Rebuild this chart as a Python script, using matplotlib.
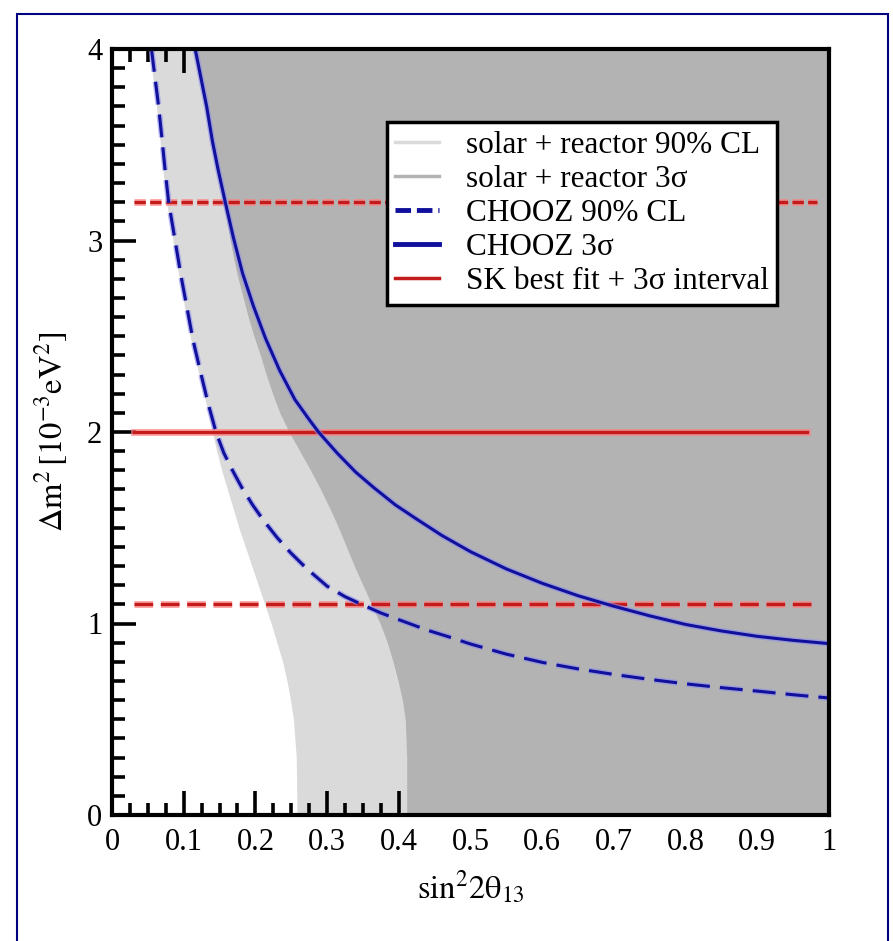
import matplotlib
matplotlib.use("Agg")
import matplotlib.pyplot as plt
import matplotlib.patheffects as pe
from matplotlib.patches import Rectangle
from matplotlib.lines import Line2D
import numpy as np

plt.rcParams['font.family'] = ['Liberation Serif', 'DejaVu Serif']
plt.rcParams['mathtext.fontset'] = 'stix'

# CHOOZ 3 sigma exclusion curve (sin^2 2theta13, dm2 in 1e-3 eV^2)
chooz3_x = [0.116, 0.124, 0.132, 0.140, 0.148, 0.158, 0.169, 0.182, 0.197, 0.214,
            0.234, 0.255, 0.274, 0.288, 0.314, 0.34, 0.365, 0.395, 0.425, 0.46,
            0.50, 0.55, 0.60, 0.65, 0.70, 0.75, 0.80, 0.85, 0.90, 0.95, 1.0]
chooz3_y = [4.0, 3.85, 3.70, 3.52, 3.37, 3.20, 3.02, 2.83, 2.66, 2.49,
            2.32, 2.17, 2.07, 2.00, 1.89, 1.79, 1.71, 1.62, 1.545, 1.46,
            1.375, 1.285, 1.21, 1.145, 1.09, 1.04, 0.995, 0.961, 0.933, 0.912, 0.895]

# CHOOZ 90% CL curve
chooz90_x = [0.055, 0.060, 0.065, 0.070, 0.074, 0.079, 0.088, 0.096, 0.104, 0.113,
             0.123, 0.134, 0.145, 0.156, 0.168, 0.181, 0.196, 0.211, 0.23, 0.249,
             0.272, 0.30, 0.325, 0.351, 0.375, 0.40, 0.44, 0.47, 0.50, 0.55,
             0.60, 0.65, 0.70, 0.75, 0.80, 0.85, 0.90, 0.95, 1.0]
chooz90_y = [4.0, 3.85, 3.70, 3.52, 3.37, 3.20, 3.00, 2.82, 2.66, 2.48,
             2.32, 2.15, 2.00, 1.89, 1.80, 1.71, 1.62, 1.54, 1.45, 1.37,
             1.285, 1.195, 1.14, 1.095, 1.055, 1.02, 0.965, 0.93, 0.893, 0.840,
             0.797, 0.763, 0.734, 0.708, 0.685, 0.665, 0.647, 0.628, 0.611]

# solar + reactor allowed region edges (x as function of dm2)
sr90_y = [0.0, 0.3, 0.5, 0.6, 0.7, 0.8, 0.9, 1.0, 1.1, 1.2, 1.3, 1.4, 1.5, 1.6,
          1.7, 1.8, 1.9, 2.0, 2.15, 2.32, 2.48, 2.66, 2.82, 3.0, 3.2, 3.37,
          3.52, 3.7, 3.85, 4.0]
sr90_x = [0.258, 0.257, 0.253, 0.249, 0.244, 0.238, 0.230, 0.222, 0.213, 0.204,
          0.195, 0.186, 0.177, 0.169, 0.161, 0.153, 0.146, 0.140, 0.131, 0.120,
          0.110, 0.101, 0.093, 0.085, 0.076, 0.071, 0.067, 0.062, 0.057, 0.052]

sr3_y = [0.0, 0.3, 0.5, 0.6, 0.7, 0.8, 0.9, 1.0, 1.1, 1.2, 1.3, 1.4, 1.5, 1.6,
         1.7, 1.8, 1.9, 2.0, 2.1, 2.2, 2.3, 2.4, 2.5, 2.6, 2.7, 2.8, 2.9, 3.0,
         3.2, 3.37, 3.52, 3.7, 3.85, 4.0]
sr3_x = [0.411, 0.411, 0.409, 0.405, 0.399, 0.392, 0.384, 0.374, 0.362, 0.350,
         0.338, 0.327, 0.316, 0.304, 0.291, 0.277, 0.262, 0.247, 0.234, 0.224,
         0.215, 0.207, 0.198, 0.190, 0.183, 0.176, 0.170, 0.165, 0.155, 0.145,
         0.137, 0.129, 0.121, 0.113]

# SK best fit and 3 sigma interval
sk_best = 2.0
sk_low = 1.1
sk_high = 3.2

light = '#dadada'
dark = '#b3b3b3'
blue = '#10109c'
red = '#c41c1c'

fig = plt.figure(figsize=(8.93, 9.41), dpi=100)
ax = fig.add_axes([112/893, 126/941, 717/893, 766/941])

ax.fill_betweenx(sr90_y, sr90_x, 1.0, color=light, lw=0, zorder=1)
ax.fill_betweenx(sr3_y, sr3_x, 1.0, color=dark, lw=0, zorder=2)

blue_fx = [pe.Stroke(linewidth=4.2, foreground='#8c8cf0', alpha=0.6), pe.Normal()]
red_fx = [pe.Stroke(linewidth=5, foreground='#ff8080', alpha=0.7), pe.Normal()]

ax.plot(chooz90_x, chooz90_y, color=blue, lw=2.2, dashes=(7.5, 3.3),
        path_effects=blue_fx, zorder=4)
ax.plot(chooz3_x, chooz3_y, color=blue, lw=2.2, path_effects=blue_fx, zorder=4)

ax.plot([0.03, 0.97], [sk_best, sk_best], color=red, lw=2.4, path_effects=red_fx, zorder=3)
ax.plot([0.03, 0.983], [sk_high, sk_high], color=red, lw=2.4, dashes=(3.4, 1.3),
        path_effects=red_fx, zorder=3)
ax.plot([0.03, 0.983], [sk_low, sk_low], color=red, lw=2.4, dashes=(5.6, 2.3),
        path_effects=red_fx, zorder=3)

ax.set_xlim(0, 1)
ax.set_ylim(0, 4)
ax.set_xticks(np.arange(0, 1.01, 0.1))
ax.set_xticklabels(['0', '0.1', '0.2', '0.3', '0.4', '0.5', '0.6', '0.7', '0.8', '0.9', '1'])
ax.set_xticks(np.arange(0, 1.001, 0.025), minor=True)
ax.set_yticks([0, 1, 2, 3, 4])
ax.set_yticks(np.arange(0, 4.001, 0.1), minor=True)
ax.tick_params(which='both', direction='in', top=True, right=True, width=2.6,
               labelsize=22)
ax.tick_params(which='major', length=17)
ax.tick_params(which='minor', length=9)
ax.tick_params(axis='x', pad=9)
ax.tick_params(axis='y', pad=7)
for s in ax.spines.values():
    s.set_linewidth(3)
    s.set_zorder(6)

ax.set_xlabel(r'$\mathrm{sin^2 2θ_{13}}$', fontsize=23.5, labelpad=9)
ax.set_ylabel(r'$\Delta\mathrm{m}^2\,[10^{-3}\mathrm{eV}^2]$', fontsize=23.5, labelpad=12)

handles = [
    Line2D([], [], color=light, lw=2.5),
    Line2D([], [], color=dark, lw=2.5),
    Line2D([], [], color=blue, lw=3.5, dashes=(3.2, 1.2)),
    Line2D([], [], color=blue, lw=3.5),
    Line2D([], [], color=red, lw=2.5),
]
labels = ['solar + reactor 90% CL', 'solar + reactor 3σ', 'CHOOZ 90% CL',
          'CHOOZ 3σ', 'SK best fit + 3σ interval']
leg = ax.legend(handles, labels, loc='upper left', bbox_to_anchor=(0.383, 0.9045),
                fontsize=22.5, frameon=True, fancybox=False, framealpha=1,
                edgecolor='black', handlelength=1.4, handletextpad=0.85,
                labelspacing=0.16, borderpad=0.28, borderaxespad=0)
leg.get_frame().set_linewidth(2.5)
leg.set_zorder(7)

fig.patches.append(Rectangle((17/893, -0.01), 871/893, 0.9947, transform=fig.transFigure,
                             fill=False, edgecolor='#000080', lw=1.5))

fig.savefig('out.png', dpi=100)
